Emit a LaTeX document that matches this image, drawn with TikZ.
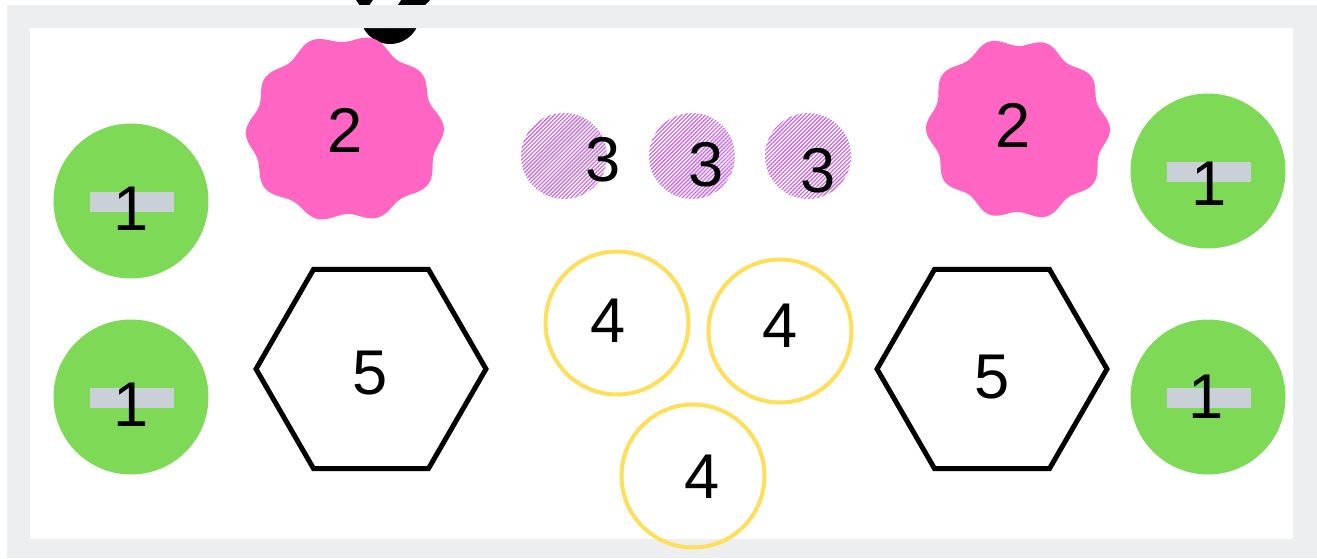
\documentclass[tikz,border=0pt]{standalone}
\usepackage{fontspec}
\setmainfont{Liberation Sans}
\usetikzlibrary{positioning,shapes.geometric,patterns.meta}

\definecolor{framegrey}{HTML}{EDEEF0}
\definecolor{dotgreen}{HTML}{7ED957}
\definecolor{bargrey}{HTML}{C9D0D7}
\definecolor{blobpink}{HTML}{FF66C4}
\definecolor{hatchpurple}{HTML}{CB6CE6}
\definecolor{ringyellow}{HTML}{FFDE59}

\tikzset{
  digit/.style={inner sep=0pt,font=\fontsize{36}{36}\selectfont},
  greendot/.style={circle,fill=dotgreen,minimum size=3.1cm,inner sep=0pt},
  greybar/.style={rectangle,fill=bargrey,minimum width=1.68cm,minimum height=0.4cm,inner sep=0pt},
  hatchdot/.style={circle,minimum size=1.72cm,inner sep=0pt,
    pattern={Lines[angle=45,distance=1.6pt,line width=0.75pt]},pattern color=hatchpurple},
  yellowring/.style={circle,draw=ringyellow,line width=0.08cm,minimum size=2.86cm,inner sep=0pt},
  hexbox/.style={regular polygon,regular polygon sides=6,draw=black,line width=0.1cm,
    minimum size=4.6cm,inner sep=0pt}
}

\begin{document}
\begin{tikzpicture}[x=0.02cm,y=-0.02cm]
  \useasboundingbox (0,0) rectangle (1317,558);

  % black piece sticking out above the frame
  \fill[black] (390,14) circle (30);
  \fill[black] (356,0) -- (430,0) -- (424,6) -- (360,6) -- cycle;
  \fill[white] (373,0) -- (401,0) -- (397,6) -- (369,6) -- cycle;

  % grey frame
  \fill[framegrey,even odd rule] (7,5) rectangle (1317,558) (30,28) rectangle (1293,539);

  % green dots with grey bars
  \node[greendot] (gTL) at (131,201) {};
  \node[greendot] (gBL) at (131,397) {};
  \node[greendot] (gTR) at (1208,171) {};
  \node[greendot] (gBR) at (1208,397) {};
  \node[greybar] (bTL) at (132,202) {};
  \node[greybar] (bBL) at (132,398) {};
  \node[greybar] (bTR) at (1209,172) {};
  \node[greybar] (bBR) at (1209,398) {};
  \node[digit] (tTL) at (131,209) {1};
  \node[digit] (tBL) at (131,405) {1};
  \node[digit] (tTR) at (1209,184) {1};
  \node[digit] (tBR) at (1206,397) {1};

  % pink wavy blobs
  \fill[blobpink] plot[domain=0:360,samples=181]
    ({345+(95+4*cos(10*\x+15)+2*sin(3*\x))*cos(\x)},{130+(90+4*cos(10*\x+15)+2*sin(3*\x))*sin(\x)}) -- cycle;
  \fill[blobpink] plot[domain=0:360,samples=181]
    ({1018+(88+4*cos(10*\x)+1.5*sin(2*\x))*cos(\x)},{129+(87+4*cos(10*\x)+1.5*sin(2*\x))*sin(\x)}) -- cycle;
  \node[digit] (pL) at (345,130) {2};
  \node[digit] (pR) at (1013,125) {2};

  % hatched dots
  \node[hatchdot] (hA) at (564,156) {};
  \node[hatchdot] (hB) at (692,156) {};
  \node[hatchdot] (hC) at (808,156) {};
  \node[digit] (hAt) at (603,160) {3};
  \node[digit] (hBt) at (706,165) {3};
  \node[digit] (hCt) at (818,171) {3};

  % hexagons
  \node[hexbox] (xL) at (371,369) {};
  \node[hexbox] (xR) at (992,369) {};
  \node[digit] (xLt) at (370,373) {5};
  \node[digit] (xRt) at (992,377) {5};

  % yellow rings
  \node[yellowring] (yA) at (617,323) {};
  \node[yellowring] (yB) at (780,331) {};
  \node[yellowring] (yC) at (693,476) {};
  \node[digit] (yAt) at (608,321) {4};
  \node[digit] (yBt) at (780,326) {4};
  \node[digit] (yCt) at (702,477) {4};
\end{tikzpicture}
\end{document}
